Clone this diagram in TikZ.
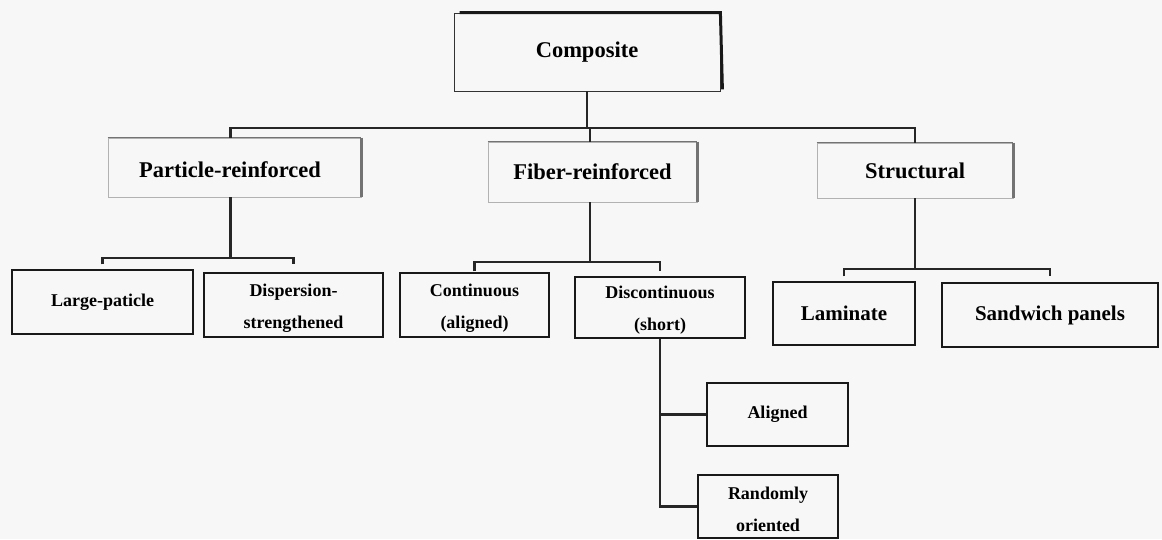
\documentclass[tikz,border=0pt]{standalone}
\usepackage{fontspec}
\setmainfont{Liberation Serif}
\begin{document}
\begin{tikzpicture}[x=1pt,y=-1pt,
  box/.style={draw=black!90, line width=1.4pt, rectangle, inner sep=0pt, align=center,
    font=\bfseries\fontsize{18}{32}\selectfont},
  bigbox/.style={draw=black!30, line width=0.7pt, rectangle, inner sep=0pt, align=center,
    font=\bfseries\fontsize{22.5}{26}\selectfont},
  shadowline/.style={line width=3pt, black!55},
  topline/.style={line width=1.3pt, black!55},
  conn/.style={line width=2.4pt, black!85}]
\useasboundingbox[fill=black!3] (0,0) rectangle (1162,539);

% top level
\node[bigbox, draw=black!80, line width=0.8pt, minimum width=266pt, minimum height=78pt] (comp) at (587,52) {Composite};
\draw[line width=3pt, black!90] ([xshift=6pt]comp.north west) -- (comp.north east) -- ([xshift=2pt,yshift=2pt]comp.south east);

\node[bigbox, minimum width=253pt, minimum height=59pt] (part) at (234.5,167.5) {};
\node[font=\bfseries\fontsize{22.5}{26}\selectfont] (partt) at (230,170) {Particle-reinforced};
\node[bigbox, minimum width=209pt, minimum height=60pt] (fiber) at (592.5,172) {Fiber-reinforced};
\node[bigbox, minimum width=196pt, minimum height=55pt] (struc) at (915,170.5) {Structural};
\foreach \n in {part,fiber,struc}{
  \draw[topline] (\n.north west) -- (\n.north east);
  \draw[shadowline] ([xshift=0.5pt]\n.north east) -- ([xshift=0.5pt]\n.south east);
}

% second level
\node[box, minimum width=181pt, minimum height=64pt] (large) at (102.5,302) {Large-paticle};
\node[box, minimum width=179pt, minimum height=64pt] (disp) at (293.5,305) {};
\node[align=center, font=\bfseries\fontsize{18}{32}\selectfont] (dispt) at (293.5,308) {Dispersion-\\strengthened};
\node[box, minimum width=149pt, minimum height=64pt] (cont) at (474.5,305) {};
\node[align=center, font=\bfseries\fontsize{18}{32}\selectfont] (contt) at (474.5,308) {Continuous\\(aligned)};
\node[box, minimum width=170pt, minimum height=61pt] (disc) at (660,307.5) {};
\node[align=center, font=\bfseries\fontsize{18}{32}\selectfont] (disct) at (660,310.5) {Discontinuous\\(short)};
\node[box, minimum width=142pt, minimum height=63pt, font=\bfseries\fontsize{21}{26}\selectfont] (lam) at (844,313.5) {Laminate};
\node[box, minimum width=216pt, minimum height=64pt, font=\bfseries\fontsize{21}{26}\selectfont] (sand) at (1050,315) {Sandwich panels};

% third level
\node[box, minimum width=141pt, minimum height=63pt] (alig) at (777.5,414.5) {Aligned};
\node[box, minimum width=140pt, minimum height=63pt] (rand) at (768,506.5) {};
\node[align=center, font=\bfseries\fontsize{18}{32}\selectfont] (randt) at (768,509.5) {Randomly\\oriented};

% bus coordinates
\coordinate (b1) at (0,128);
\coordinate (b2) at (0,258);
\coordinate (b3) at (0,262);
\coordinate (b4) at (0,269);

% connectors
\draw[conn] (comp.south) -- (comp.south |- b1);
\draw[conn] ([xshift=-4pt]part.north) -- ([xshift=-4pt]part.north |- b1) -- (struc.north |- b1) -- (struc.north);
\draw[conn] ([xshift=-2.5pt]fiber.north) -- ([xshift=-2.5pt]fiber.north |- b1);

\draw[conn] ([xshift=-4pt]part.south) -- ([xshift=-4pt]part.south |- b2);
\draw[conn] ([yshift=5pt]large.north) -- (large.north |- b2) -- (disp.north |- b2) -- ([yshift=8pt]disp.north);

\draw[conn] ([xshift=-2.5pt]fiber.south) -- ([xshift=-2.5pt]fiber.south |- b3);
\draw[conn] ([yshift=1pt]cont.north) -- (cont.north |- b3) -- (disc.north |- b3) -- ([yshift=5pt]disc.north);

\draw[conn] (struc.south) -- (struc.south |- b4);
\draw[conn] ([yshift=5pt]lam.north) -- (lam.north |- b4) -- (sand.north |- b4) -- ([yshift=6pt]sand.north);

\draw[conn] (disc.south) |- (alig.west);
\draw[conn] (disc.south) |- (rand.west);
\end{tikzpicture}
\end{document}
